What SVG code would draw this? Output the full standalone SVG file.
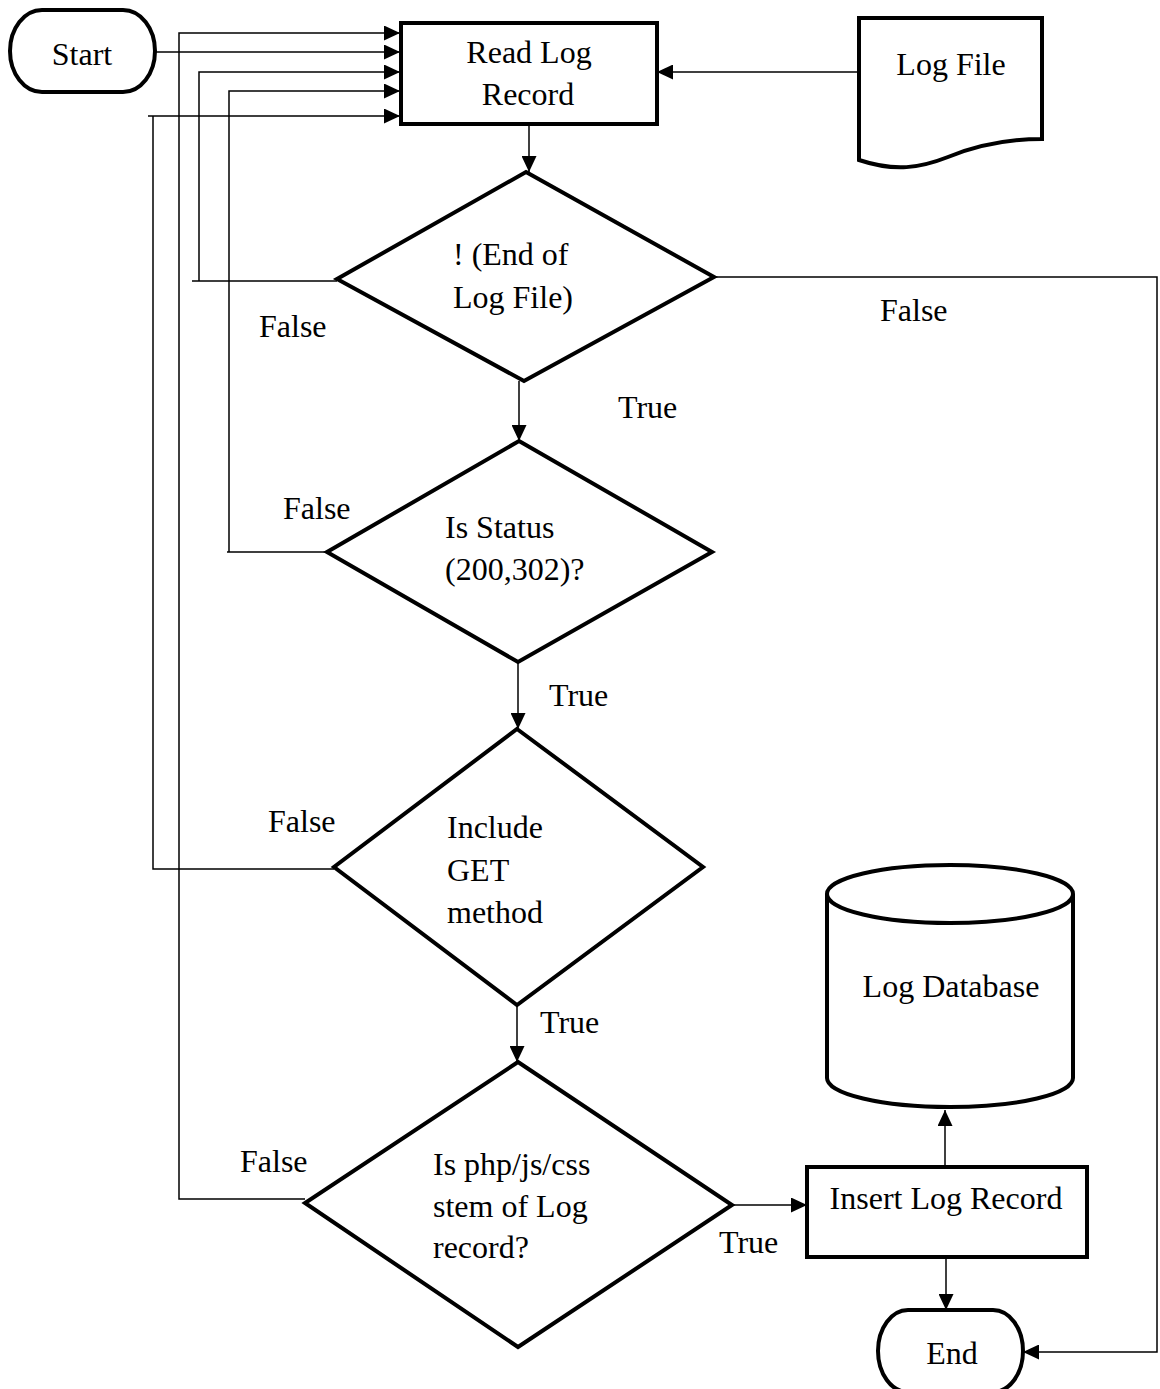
<svg xmlns="http://www.w3.org/2000/svg" width="1160" height="1389" viewBox="0 0 1160 1389">
<defs>
<style>
.shape{fill:#fff;stroke:#000;stroke-width:4;stroke-linejoin:miter}
.conn{fill:none;stroke:#000;stroke-width:1.5}
.t{font-family:"Liberation Serif","Times New Roman",serif;font-size:32px;fill:#000}
.c{text-anchor:middle}
</style>
<marker id="ah" markerUnits="userSpaceOnUse" markerWidth="17" markerHeight="15" refX="16" refY="7.5" orient="auto" viewBox="0 0 17 15">
<path d="M0,0 L16,7.5 L0,15 Z" fill="#000"/>
</marker>
</defs>
<rect width="1160" height="1389" fill="#fff"/>

<g id="connectors">
<path class="conn" d="M155,52 H400" marker-end="url(#ah)"/>
<path class="conn" d="M305,1199 H179 V33 H400" marker-end="url(#ah)"/>
<path class="conn" d="M337,281 H192 M199,281 V72 H400" marker-end="url(#ah)"/>
<path class="conn" d="M340,552 H227 M229,552 V91 H400" marker-end="url(#ah)"/>
<path class="conn" d="M334,869 H153 V116 M148,116 H400" marker-end="url(#ah)"/>
<path class="conn" d="M859,72 H657" marker-end="url(#ah)"/>
<path class="conn" d="M529,124 V172" marker-end="url(#ah)"/>
<path class="conn" d="M519,381 V441" marker-end="url(#ah)"/>
<path class="conn" d="M518,662 V729" marker-end="url(#ah)"/>
<path class="conn" d="M517,1005 V1062" marker-end="url(#ah)"/>
<path class="conn" d="M733,1205 H807" marker-end="url(#ah)"/>
<path class="conn" d="M945,1167 V1110" marker-end="url(#ah)"/>
<path class="conn" d="M946,1257 V1310" marker-end="url(#ah)"/>
<path class="conn" d="M714,277 H1157 V1352 H1023" marker-end="url(#ah)"/>
</g>

<g id="start">
<rect class="shape" x="10" y="10" width="145" height="82" rx="32" ry="41"/>
<text class="t c" x="82" y="65">Start</text>
</g>

<g id="read-log-record">
<rect class="shape" x="401" y="23" width="256" height="101"/>
<text class="t c" x="529" y="63">Read Log</text>
<text class="t c" x="528" y="105">Record</text>
</g>

<g id="log-file">
<path class="shape" d="M859,18 H1042 V139 C1005,139 975,146 948,157 C920,168 895,172 859,160 Z"/>
<text class="t c" x="951" y="75">Log File</text>
</g>

<g id="decision-eof">
<polygon class="shape" points="526,172 714,277 524,381 337,279"/>
<text class="t" x="453" y="265">! (End of</text>
<text class="t" x="453" y="308">Log File)</text>
</g>

<g id="decision-status">
<polygon class="shape" points="519,441 712,552 518,662 327,552"/>
<text class="t" x="445" y="538">Is Status</text>
<text class="t" x="445" y="580">(200,302)?</text>
</g>

<g id="decision-get">
<polygon class="shape" points="517,729 703,867 517,1005 334,867"/>
<text class="t" x="447" y="838">Include</text>
<text class="t" x="447" y="881">GET</text>
<text class="t" x="447" y="923">method</text>
</g>

<g id="decision-stem">
<polygon class="shape" points="518,1062 732,1205 518,1347 305,1203"/>
<text class="t" x="433" y="1175">Is php/js/css</text>
<text class="t" x="433" y="1217">stem of Log</text>
<text class="t" x="433" y="1258">record?</text>
</g>

<g id="log-database">
<path class="shape" d="M827,894 V1078 A123,29 0 0 0 1073,1078 V894"/>
<ellipse class="shape" cx="950" cy="894" rx="123" ry="29"/>
<text class="t c" x="951" y="997">Log Database</text>
</g>

<g id="insert-log-record">
<rect class="shape" x="807" y="1167" width="280" height="90"/>
<text class="t c" x="946" y="1209">Insert Log Record</text>
</g>

<g id="end">
<rect class="shape" x="878" y="1310" width="145" height="82" rx="30" ry="41"/>
<text class="t c" x="952" y="1364">End</text>
</g>

<g id="labels">
<text class="t" x="259" y="337">False</text>
<text class="t" x="880" y="321">False</text>
<text class="t" x="618" y="418">True</text>
<text class="t" x="283" y="519">False</text>
<text class="t" x="549" y="706">True</text>
<text class="t" x="268" y="832">False</text>
<text class="t" x="540" y="1033">True</text>
<text class="t" x="240" y="1172">False</text>
<text class="t" x="719" y="1253">True</text>
</g>
</svg>
